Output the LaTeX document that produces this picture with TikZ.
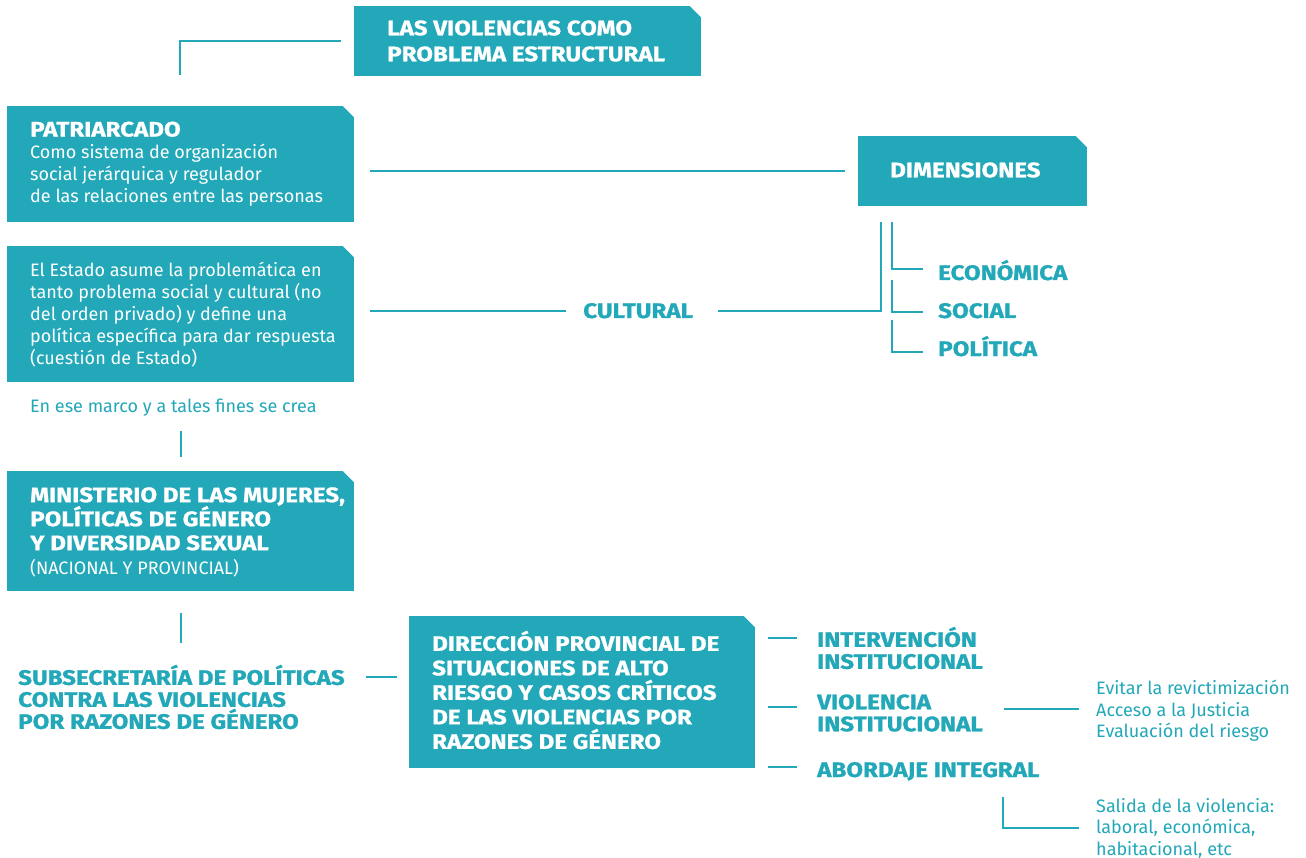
\documentclass[tikz,border=0pt]{standalone}
\usepackage{fontspec}
\setmainfont{Fira Sans}
\newfontfamily\hdf{Fira Sans}[FakeStretch=1.15,BoldFeatures={FakeBold=1.0}]
\definecolor{tl}{HTML}{22A8B8}
\newcommand\fhd{\hdf\bfseries\fontsize{21}{24}\selectfont}
\newcommand\fbd{\fontsize{18}{22}\selectfont}
\newcommand\chamf[1]{\fill[white] ([shift={(-12,-0.5)}]#1.north east) -- ([shift={(0.5,-0.5)}]#1.north east) -- ([shift={(0.5,12)}]#1.north east) -- cycle;}
\begin{document}
\begin{tikzpicture}[x=1pt,y=-1pt,
  box/.style={fill=tl,anchor=north west,inner sep=0pt},
  btxt/.style={text=white,anchor=west,inner sep=0pt,align=left},
  conn/.style={draw=tl,line width=2pt},
  lab/.style={text=tl,inner sep=0pt,align=left,font=\fhd},
  txt/.style={text=tl,inner sep=0pt,align=left,font=\fbd}]
\useasboundingbox[fill=white] (0,0) rectangle (1306,858);

% boxes
\node[box,minimum width=347pt,minimum height=70pt] (title) at (354,6) {};
\chamf{title}
\node[btxt,font=\hdf\bfseries\fontsize{21}{26}\selectfont] (titlet) at (387,41)
  {LAS VIOLENCIAS COMO\\PROBLEMA ESTRUCTURAL};
\node[box,minimum width=347pt,minimum height=116pt] (patr) at (7,106) {};
\chamf{patr}
\node[btxt,font=\fbd] (patrt) at (30,164)
  {{\fhd PATRIARCADO}\\Como sistema de organización\\social jerárquica y regulador\\de las relaciones entre las personas};
\node[box,minimum width=229pt,minimum height=70pt] (dim) at (858,136) {};
\chamf{dim}
\node[btxt,font=\fhd] (dimt) at (890,170) {DIMENSIONES};
\node[box,minimum width=347pt,minimum height=136pt] (est) at (7,246) {};
\chamf{est}
\node[btxt,font=\fbd] (estt) at (30,315)
  {El Estado asume la problemática en\\tanto problema social y cultural (no\\del orden privado) y define una\\política específica para dar respuesta\\(cuestión de Estado)};
\node[box,minimum width=347pt,minimum height=120pt] (min) at (7,471) {};
\chamf{min}
\node[btxt,font=\fhd] (mint) at (30,532)
  {MINISTERIO DE LAS MUJERES,\\POLÍTICAS DE GÉNERO\\Y DIVERSIDAD SEXUAL\\{\normalfont\fbd (NACIONAL Y PROVINCIAL)}};
\node[box,minimum width=346pt,minimum height=152pt] (dir) at (409,616) {};
\chamf{dir}
\node[btxt,font=\hdf\bfseries\fontsize{21}{24.5}\selectfont] (dirt) at (432,690)
  {DIRECCIÓN PROVINCIAL DE\\SITUACIONES DE ALTO\\RIESGO Y CASOS CRÍTICOS\\DE LAS VIOLENCIAS POR\\RAZONES DE GÉNERO};

% labels
\node[txt,anchor=base west] (marco) at (30,412) {En ese marco y a tales fines se crea};
\node[lab,anchor=base west] (cult) at (583,318) {CULTURAL};
\node[lab,anchor=base west] (eco) at (938,280) {ECONÓMICA};
\node[lab,anchor=base west] (soc) at (938,318) {SOCIAL};
\node[lab,anchor=base west] (pol) at (938,356) {POLÍTICA};
\node[lab,anchor=west,font=\hdf\bfseries\fontsize{21}{22}\selectfont] (sub) at (18,697)
  {SUBSECRETARÍA DE POLÍTICAS\\CONTRA LAS VIOLENCIAS\\POR RAZONES DE GÉNERO};
\node[lab,anchor=west,font=\hdf\bfseries\fontsize{21}{22}\selectfont] (int) at (817,648) {INTERVENCIÓN\\INSTITUCIONAL};
\node[lab,anchor=west,font=\hdf\bfseries\fontsize{21}{22}\selectfont] (vio) at (817,713) {VIOLENCIA\\INSTITUCIONAL};
\node[lab,anchor=base west] (abo) at (817,777) {ABORDAJE INTEGRAL};
\node[txt,anchor=west,font=\fontsize{18}{21.5}\selectfont] (evi) at (1096,711)
  {Evitar la revictimización\\Acceso a la Justicia\\Evaluación del riesgo};
\node[txt,anchor=west,font=\fontsize{18}{21.5}\selectfont] (sal) at (1096,828)
  {Salida de la violencia:\\laboral, económica,\\habitacional, etc};

% connectors
\coordinate (c1) at (180,75);
\draw[conn] ([xshift=-13pt]title.west) -| (c1);
\draw[conn] ([xshift=16pt]patr.east |- dim.west) -- ([xshift=-13pt]dim.west);
\draw[conn] ([xshift=16pt]est.east |- 0,311) -- ([xshift=-17pt]cult.west |- 0,311);
\coordinate (d1) at ([shift={(23,16)}]dim.south west);
\coordinate (d2) at ([shift={(34,16)}]dim.south west);
\draw[conn] ([xshift=25pt]cult.east |- 0,311) -| (d1);
\draw[conn] (d2) |- ([xshift=-15pt]eco.west |- 0,269);
\draw[conn] ([xshift=-46pt]soc.west |- 0,280) |- ([xshift=-15pt]soc.west |- 0,312);
\draw[conn] ([xshift=-46pt]pol.west |- 0,320) |- ([xshift=-15pt]pol.west |- 0,352);
\draw[conn] ([yshift=14pt]min.north) -- ++(0,-26);
\draw[conn] ([yshift=-22pt]min.south) -- ++(0,30);
\draw[conn] ([xshift=-12pt]dir.west |- 0,677) -- ++(-31,0);
\draw[conn] ([xshift=13pt]dir.east |- 0,638) -- ([xshift=-20pt]int.west |- 0,638);
\draw[conn] ([xshift=13pt]dir.east |- 0,707) -- ([xshift=-20pt]vio.west |- 0,707);
\draw[conn] ([xshift=13pt]dir.east |- 0,767) -- ([xshift=-20pt]abo.west |- 0,767);
\draw[conn] ([xshift=-17pt]evi.west |- 0,709) -- ++(-75,0);
\coordinate (s1) at (1003,797);
\draw[conn] (s1) |- ([xshift=-17pt]sal.west |- 0,828);
\end{tikzpicture}
\end{document}
